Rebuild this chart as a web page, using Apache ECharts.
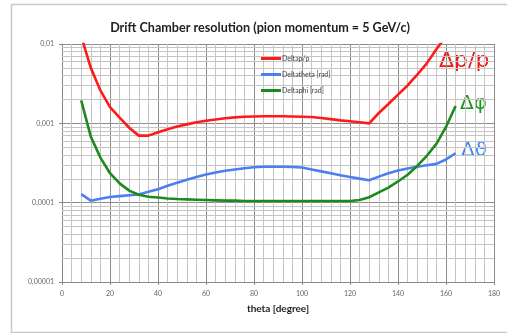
<!DOCTYPE html>
<html><head><meta charset="utf-8">
<script src="https://cdn.jsdelivr.net/npm/echarts@6/dist/echarts.min.js"></script>
<style>html,body{margin:0;padding:0;background:#fff}#c{width:507px;height:333px}</style>
</head><body><div id="c"></div>
<script>
const theta = [8,12,16,20,24,28,32,36,40,44,48,52,56,60,64,68,72,76,80,84,88,92,96,100,104,108,112,116,120,124,128,132,136,140,144,148,152,156,160,164];
const deltaP = [0.0125,0.0050,0.0026,0.0016,0.00118,0.00088,0.00070,0.00070,0.00077,0.00084,0.00091,0.00097,0.00103,0.00108,0.00112,0.00116,0.00119,0.00121,0.00122,0.00123,0.00123,0.00123,0.00122,0.00121,0.00120,0.00117,0.00113,0.00109,0.00106,0.00103,0.00100,0.00135,0.00175,0.0023,0.0030,0.0041,0.0057,0.0086,0.0125,0.018];
const deltaTheta = [0.000128,0.000106,0.000112,0.000118,0.000121,0.000124,0.000127,0.000137,0.000148,0.000163,0.000178,0.000194,0.000210,0.000226,0.000240,0.000252,0.000262,0.000272,0.000280,0.000283,0.000284,0.000283,0.000281,0.000278,0.000262,0.000248,0.000235,0.000222,0.000211,0.000201,0.000192,0.000213,0.000235,0.000255,0.000270,0.000284,0.000296,0.000308,0.000350,0.000420];
const deltaPhi = [0.00195,0.00068,0.00037,0.000235,0.000175,0.000142,0.000126,0.000119,0.000116,0.000113,0.000111,0.000110,0.000109,0.000108,0.000107,0.000106,0.000106,0.000105,0.000105,0.000105,0.000105,0.000105,0.000105,0.000105,0.000105,0.000105,0.000105,0.000105,0.000105,0.000108,0.000117,0.000135,0.000155,0.000185,0.000225,0.000290,0.000390,0.000550,0.00090,0.00165];
const seriesNames = ['Deltap/p','Deltatheta [rad]','Deltaphi [rad]'];
const yTickValues = [0.00001,0.0001,0.001,0.01];
const yTickLabels = ['0,00001','0,0001','0,001','0,01'];
const xMin = 0, xMax = 180, xMinorStep = 4;
const yMinorValues = [];
for (let d = 0; d < 3; d++) { for (let m = 2; m <= 9; m++) { yMinorValues.push(+(m * yTickValues[d]).toPrecision(3)); } }
const xMinorValues = [];
for (let x = xMinorStep; x < xMax; x += xMinorStep) { if (x % 20 !== 0) xMinorValues.push(x); }

const colors = ['#ff1a1a','#4a7ff0','#1e8a1e'];
const zip = (ys) => theta.map((t,i)=>[t, ys[i]]);
const chart = echarts.init(document.getElementById('c'), null, {renderer:'canvas'});
chart.setOption({
  animation:false,
  backgroundColor:'#fff',
  title:{text:'Drift Chamber resolution (pion momentum = 5 GeV/c)', left:255, textAlign:'center', top:16,
    textStyle:{fontFamily:'Lato', fontWeight:'bold', fontSize:12.6, color:'#222'}},
  grid:{left:62, right:13, top:44, bottom:51},
  legend:{orient:'vertical', left:256, top:50, itemGap:9, itemWidth:20, itemHeight:3, icon:'rect',
    textStyle:{fontSize:7, color:'#444', fontFamily:'Lato', padding:[0,0,0,-4]}, data:seriesNames},
  xAxis:{type:'value', min:xMin, max:xMax, interval:20,
    name:'theta [degree]', nameLocation:'middle', nameGap:22,
    nameTextStyle:{fontFamily:'Lato', fontWeight:'bold', fontSize:10, color:'#222'},
    axisLine:{show:true, lineStyle:{color:'#888'}}, axisTick:{show:true, length:3, lineStyle:{color:'#888'}},
    axisLabel:{fontSize:7, color:'#666', margin:8, fontFamily:'Lato'},
    splitLine:{show:true, lineStyle:{color:'#8c8c8c', width:1}}},
  yAxis:{type:'log', logBase:10, min:0.00001, max:0.01,
    axisLine:{show:true, lineStyle:{color:'#888'}}, axisTick:{show:true, length:3, lineStyle:{color:'#888'}},
    axisLabel:{fontSize:7, color:'#666', margin:8, fontFamily:'Lato',
      formatter:(v)=>{ const i = yTickValues.findIndex(t=>Math.abs(Math.log10(t)-Math.log10(v))<1e-6); return i>=0 ? yTickLabels[i] : ''; }},
    splitLine:{show:true, lineStyle:{color:'#8c8c8c', width:1}}},
  series:[
    {type:'line', name:'_minor', data:zip(deltaPhi), z:1, silent:true, showSymbol:false,
      lineStyle:{opacity:0}, itemStyle:{opacity:0}, legendHoverLink:false,
      markLine:{silent:true, symbol:['none','none'], label:{show:false}, animation:false, z:1,
        lineStyle:{color:'#c4c4c4', width:1, type:'solid'},
        emphasis:{disabled:true},
        data: yMinorValues.map(v=>[{coord:[xMin, v]},{coord:[xMax, v]}]).concat(xMinorValues.map(v=>({xAxis:v})))}},
    {type:'line', name:seriesNames[0], data:zip(deltaP), showSymbol:false, smooth:false, clip:true, z:3,
      lineStyle:{color:colors[0], width:2.6}, itemStyle:{color:colors[0]}},
    {type:'line', name:seriesNames[1], data:zip(deltaTheta), showSymbol:false, clip:true, z:3,
      lineStyle:{color:colors[1], width:2.6}, itemStyle:{color:colors[1]}},
    {type:'line', name:seriesNames[2], data:zip(deltaPhi), showSymbol:false, clip:true, z:3,
      lineStyle:{color:colors[2], width:2.6}, itemStyle:{color:colors[2]}}
  ],
  graphic:[
    {type:'rect', left:9, top:2, shape:{width:520, height:328}, style:{fill:'none', stroke:'#c8c8c8', lineWidth:1.5}, z:-1},
    {type:'text', left:439, top:50, style:{text:'Δp/p', fill:'#f01818', font:'22px "DejaVu Sans"'}},
    {type:'text', left:460, top:94, style:{text:'Δφ', fill:'#1e961e', font:'20px "DejaVu Sans"'}},
    {type:'text', left:461, top:141, style:{text:'Δϑ', fill:'#3a86f0', font:'20px "DejaVu Sans"'}}
  ]
});
</script></body></html>
